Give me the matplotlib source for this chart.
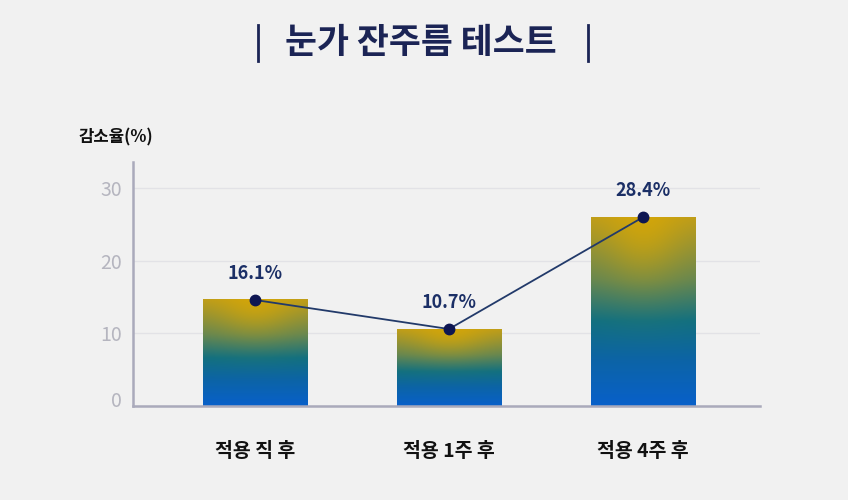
import numpy as np
import matplotlib
matplotlib.use("Agg")
import matplotlib.pyplot as plt
from matplotlib.transforms import ScaledTranslation
from matplotlib.lines import Line2D

plt.rcParams['font.family'] = ['Noto Sans CJK KR', 'DejaVu Sans']

# ---- data ----
categories = ['적용 직 후', '적용 1주 후', '적용 4주 후']
bar_heights = [14.6, 10.6, 26.0]
value_labels = ['16.1%', '10.7%', '28.4%']
y_ticks = [0, 10, 20, 30]
title = '눈가 잔주름 테스트'
y_label = '감소율(%)'

BG = '#f1f1f1'
NAVY = '#1b2f66'
GRAY_TICK = '#b5b5bf'
SPINE = '#aaaabb'

fig = plt.figure(figsize=(8.48, 5.0), dpi=100, facecolor=BG)
ax = fig.add_axes([133/848, 1-406/500, (760-133)/848, (406-162)/500])
ax.set_facecolor(BG)

x = np.arange(len(categories))
width = 0.54
ax.set_xlim(-0.629, 2.603)
ax.set_ylim(0, 33.6)

# gradient fill
stops_t = np.array([0.0, 0.33, 0.55, 0.75, 1.0])
stops_c = np.array([[188, 156, 28], [100, 134, 82], [18, 112, 128],
                    [12, 100, 165], [8, 96, 202]]) / 255.0
ny, nx = 200, 100
t = np.linspace(0, 1, ny)[:, None] * np.ones((1, nx))
dx = np.ones((ny, 1)) * np.linspace(-1, 1, nx)[None, :]
base = np.zeros((ny, nx, 3))
for k in range(3):
    base[..., k] = np.interp(t, stops_t, stops_c[:, k])
glow = np.exp(-((dx / 0.75) ** 2 + (t / 0.32) ** 2))
gold = np.array([222, 170, 0]) / 255.0
img = base * (1 - 0.65 * glow[..., None]) + gold * 0.65 * glow[..., None]
img = np.clip(img, 0, 1)

for xi, h in zip(x, bar_heights):
    ax.imshow(img, extent=[xi - width/2, xi + width/2, 0, h], aspect='auto',
              origin='upper', zorder=2, interpolation='bilinear')

# line + markers
ax.plot(x, bar_heights, color='#223a6a', lw=1.3, zorder=3)
ax.plot(x, bar_heights, 'o', color='#0e1652', ms=7.5, zorder=4)

for xi, h, lab in zip(x, bar_heights, value_labels):
    ax.annotate(lab, (xi, h), xytext=(0, 19), textcoords='offset points',
                ha='center', va='center', fontsize=13, fontweight='bold',
                color=NAVY, zorder=5)

# axes styling
ax.set_yticks(y_ticks)
ax.set_yticklabels([str(v) for v in y_ticks])
ax.yaxis.grid(True, color='#e2e2e6', lw=1.0, zorder=0)
ax.set_axisbelow(True)
ax.tick_params(axis='y', length=0, pad=8, labelsize=14, labelcolor=GRAY_TICK)
ax.tick_params(axis='x', length=0, pad=26, labelsize=14)
ax.set_xticks(x)
ax.set_xticklabels(categories, fontweight='bold', color='#111111')
for lab in ax.get_yticklabels():
    if lab.get_text() == '0':
        lab.set_transform(lab.get_transform() + ScaledTranslation(0, 7/100, fig.dpi_scale_trans))

for s in ['top', 'right']:
    ax.spines[s].set_visible(False)
for s in ['left', 'bottom']:
    ax.spines[s].set_color(SPINE)
    ax.spines[s].set_linewidth(1.8)

# y-axis label
fig.text(78/848, 1-137/500, y_label, ha='left', va='center', fontsize=12,
         fontweight='bold', color='#111111')

# title with bars
fig.text(421/848, 1-42/500, title, ha='center', va='center', fontsize=25,
         fontweight='bold', color='#1b2455')
for xp in (258, 588):
    fig.add_artist(Line2D([xp/848, xp/848], [1-25/500, 1-61/500],
                          color='#1b2455', lw=2.0))

fig.savefig('out.png', dpi=100, facecolor=BG)
